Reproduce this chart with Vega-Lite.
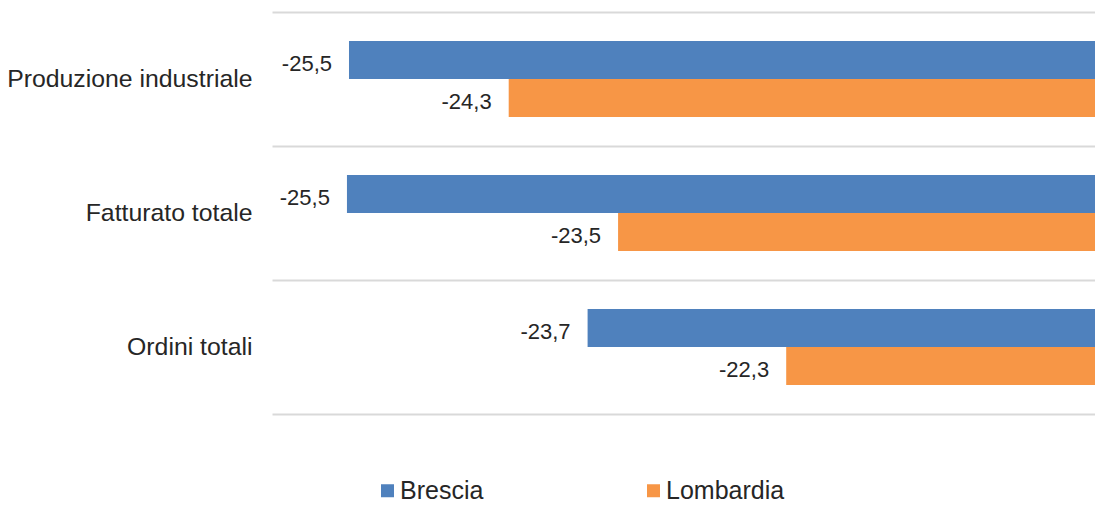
{
  "$schema": "https://vega.github.io/schema/vega-lite/v6.json",
  "width": 823,
  "height": 402,
  "autosize": {"type": "none"},
  "padding": {"left": 272, "top": 12, "right": 0, "bottom": 92},
  "background": "white",
  "config": {
    "view": {"stroke": null},
    "font": "Liberation Sans",
    "locale": {"number": {"decimal": ",", "thousands": ".", "grouping": [3], "currency": ["€", ""], "minus": "-"}}
  },
  "data": {
    "values": [
      {"voce": "Produzione industriale", "area": "Brescia", "valore": -25.484},
      {"voce": "Produzione industriale", "area": "Lombardia", "valore": -24.31},
      {"voce": "Fatturato totale", "area": "Brescia", "valore": -25.499},
      {"voce": "Fatturato totale", "area": "Lombardia", "valore": -23.506},
      {"voce": "Ordini totali", "area": "Brescia", "valore": -23.73},
      {"voce": "Ordini totali", "area": "Lombardia", "valore": -22.27}
    ]
  },
  "encoding": {
    "y": {
      "field": "voce",
      "type": "nominal",
      "sort": ["Produzione industriale", "Fatturato totale", "Ordini totali"],
      "scale": {"paddingInner": 0, "paddingOuter": 0},
      "axis": {
        "title": null,
        "domain": false,
        "ticks": false,
        "tickBand": "extent",
        "grid": true,
        "gridColor": "#d9d9d9",
        "gridWidth": 2,
        "labelFontSize": 24.8,
        "labelColor": "#262626",
        "labelPadding": 20,
        "labelLimit": 400
      }
    },
    "yOffset": {
      "field": "area",
      "type": "nominal",
      "sort": ["Brescia", "Lombardia"],
      "scale": {"paddingInner": 0, "paddingOuter": 0.763}
    },
    "x": {
      "field": "valore",
      "type": "quantitative",
      "scale": {"domain": [-26.05, -20], "zero": false, "nice": false},
      "axis": null
    }
  },
  "layer": [
    {
      "mark": {"type": "bar", "clip": true},
      "encoding": {
        "x2": {"datum": 0},
        "color": {
          "field": "area",
          "type": "nominal",
          "sort": ["Brescia", "Lombardia"],
          "scale": {"range": ["#4f81bd", "#f79646"]},
          "legend": {
            "title": null,
            "orient": "none",
            "direction": "horizontal",
            "legendX": 103,
            "legendY": 466,
            "symbolType": "square",
            "symbolSize": 169,
            "symbolStrokeWidth": 0,
            "labelFontSize": 25,
            "labelColor": "#262626",
            "labelOffset": 0,
            "columnPadding": 157
          }
        }
      }
    },
    {
      "mark": {"type": "text", "align": "right", "baseline": "middle", "dx": -17, "dy": 4, "fontSize": 22, "color": "#262626"},
      "encoding": {
        "text": {"field": "valore", "type": "quantitative", "format": ".1f"}
      }
    }
  ]
}
